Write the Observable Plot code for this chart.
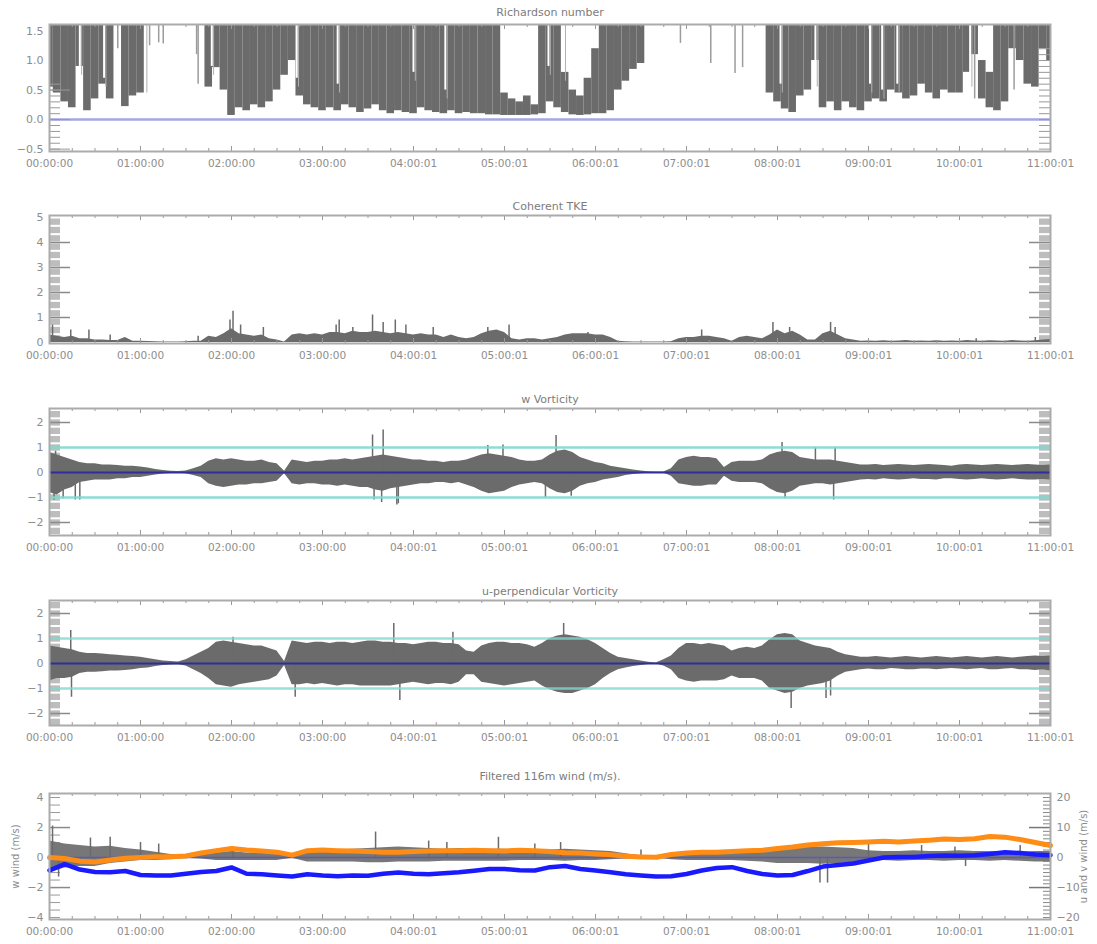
<!DOCTYPE html>
<html>
<head>
<meta charset="utf-8">
<script src="https://cdn.jsdelivr.net/npm/d3@7"></script>
<script src="https://cdn.jsdelivr.net/npm/@observablehq/plot@0.6"></script>
<style>
  body { margin: 0; background: #fff; }
  #chart { position: relative; width: 1097px; height: 944px; background: #fff; }
  #chart > div { position: absolute; left: 0; }
</style>
</head>
<body>
<div id="chart"></div>
<script>
// ---------------- DATA ----------------
const xTickLabels = ["00:00:00","01:00:00","02:00:00","03:00:00","04:00:01","05:00:01","06:00:01","07:00:01","08:00:01","09:00:01","10:00:01","11:00:01"];
const hourTicks = d3.range(0, 661, 60);
const quarterTicks = d3.range(0, 661, 15);
const minutes = d3.range(0, 661, 5);       // 5-minute bins
const windMinutes = d3.range(0, 661, 10);  // 10-minute bins

// Richardson number: lower / upper envelope per 5-minute bin (null = nothing drawn)
const riLo = [
  0.55,0.45,0.3,0.2,0.9,0.15,0.35,0.6,0.35,null,
  0.22,0.4,0.45,null,null,null,null,null,null,null,
  null,0.55,0.88,0.5,0.07,0.2,0.15,0.25,0.2,0.3,
  0.5,0.75,1.0,0.4,0.25,0.2,0.15,0.2,0.15,0.25,
  0.2,0.12,0.18,0.25,0.15,0.1,0.15,0.12,0.1,0.2,
  0.15,0.12,0.1,0.15,0.1,0.12,0.1,0.1,0.08,0.08,
  0.07,0.07,0.07,0.07,0.08,0.1,0.3,0.2,0.12,0.08,
  0.07,0.08,0.1,0.1,0.15,0.5,0.65,0.85,0.95,null,
  null,null,null,null,null,null,null,null,null,null,
  null,null,null,null,null,0.45,0.3,0.18,0.12,0.4,
  0.5,1.0,0.2,0.3,0.15,0.3,0.2,0.15,0.3,0.35,
  0.3,0.5,0.45,0.35,0.4,0.6,0.45,0.35,0.5,0.45,
  0.45,0.8,1.1,0.35,0.2,0.15,0.3,1.2,1.0,0.6,
  0.55,1.2,1.0
];
const riHi = [
  1.6,1.6,1.6,1.6,1.6,1.6,1.6,1.6,1.6,null,
  1.6,1.6,1.6,null,null,null,null,null,null,null,
  null,1.6,1.6,1.6,1.6,1.6,1.6,1.6,1.6,1.6,
  1.6,1.6,1.6,1.6,1.6,1.6,1.6,1.6,1.6,1.6,
  1.6,1.6,1.6,1.6,1.6,1.6,1.6,1.6,1.6,1.6,
  1.6,1.6,1.6,1.6,1.6,1.6,1.6,1.6,1.6,1.6,
  0.45,0.35,0.3,0.4,0.25,1.6,1.6,1.6,0.8,0.5,
  0.4,0.7,1.2,1.6,1.6,1.6,1.6,1.6,1.6,null,
  null,null,null,null,null,null,null,null,null,null,
  null,null,null,null,null,1.6,1.6,1.6,1.6,1.6,
  1.6,1.6,1.6,1.6,1.6,1.6,1.6,1.6,1.6,1.6,
  1.6,1.6,1.6,1.6,1.6,1.6,1.6,1.6,1.6,1.6,
  1.6,1.6,1.6,1.0,0.8,1.6,1.6,1.6,1.6,1.6,
  1.6,1.6,1.6
];
// isolated Richardson-number strands (minutes, lowest value)
const riStrandT  = [45, 66, 72, 75, 97, 98, 416, 436, 452, 457, 610, 636];
const riStrandLo = [1.2, 1.25, 1.3, 1.28, 1.1, 0.6, 1.29, 0.95, 0.78, 0.88, 0.35, 0.5];
// white gaps inside the dense Richardson-number blocks (minutes, lowest value of gap)
const riGapT  = [20, 36, 63, 107, 163, 190, 240, 261, 329, 339, 482, 505, 541, 549, 559, 607];
const riGapLo = [0.9, 0.7, 0.6, 0.9, 0.7, 0.6, 0.8, 0.5, 0.9, 0.8, 0.6, 0.7, 0.6, 0.5, 0.6, 0.7];

// Coherent TKE envelope per 5-minute bin
const tke = [
  0.3,0.25,0.2,0.25,0.15,0.15,0.1,0.1,0.08,0.08,
  0.2,0.05,0.05,0.04,0.03,0.02,0.02,0.02,0.03,0.05,
  0.05,0.25,0.2,0.35,0.55,0.35,0.3,0.25,0.3,0.15,
  0.1,0.02,0.3,0.35,0.3,0.35,0.3,0.4,0.4,0.35,
  0.45,0.4,0.4,0.45,0.4,0.35,0.4,0.35,0.3,0.35,
  0.3,0.3,0.2,0.3,0.2,0.15,0.2,0.35,0.45,0.5,
  0.4,0.15,0.1,0.15,0.15,0.1,0.15,0.2,0.3,0.35,
  0.35,0.35,0.3,0.3,0.2,0.05,0.03,0.02,0.02,0.02,
  0.02,0.02,0.03,0.15,0.2,0.2,0.25,0.25,0.2,0.15,
  0.05,0.2,0.25,0.2,0.15,0.3,0.5,0.35,0.45,0.3,
  0.1,0.1,0.35,0.45,0.3,0.15,0.1,0.05,0.06,0.05,
  0.07,0.05,0.06,0.08,0.05,0.06,0.05,0.07,0.05,0.06,
  0.05,0.08,0.06,0.05,0.07,0.06,0.05,0.08,0.06,0.05,
  0.07,0.1,0.12
];
const tkeSpikeT = [2,14,26,40,98,119,121,126,141,189,191,200,213,220,228,235,253,289,303,355,430,477,488,515,518,611,650];
const tkeSpikeV = [0.7,0.5,0.5,0.3,0.25,0.9,1.25,0.7,0.6,0.7,0.9,0.6,1.1,0.8,0.9,0.7,0.6,0.6,0.7,0.4,0.5,0.8,0.6,0.8,0.6,0.15,0.2];

// w vorticity envelope
const wUp = [
  0.8,0.7,0.6,0.5,0.4,0.35,0.35,0.3,0.3,0.28,
  0.25,0.25,0.22,0.18,0.12,0.08,0.05,0.04,0.06,0.15,
  0.25,0.45,0.55,0.5,0.55,0.5,0.45,0.45,0.5,0.4,
  0.35,0.05,0.5,0.45,0.4,0.45,0.45,0.5,0.5,0.55,
  0.5,0.55,0.6,0.65,0.7,0.65,0.6,0.55,0.5,0.5,
  0.45,0.45,0.4,0.45,0.45,0.5,0.6,0.7,0.75,0.7,
  0.65,0.6,0.5,0.45,0.45,0.5,0.7,0.85,0.9,0.8,
  0.6,0.5,0.4,0.35,0.25,0.2,0.15,0.1,0.06,0.03,
  0.02,0.02,0.15,0.5,0.6,0.65,0.6,0.6,0.55,0.2,
  0.4,0.45,0.45,0.45,0.5,0.7,0.8,0.85,0.8,0.6,
  0.55,0.5,0.5,0.5,0.45,0.4,0.35,0.3,0.3,0.32,
  0.28,0.3,0.32,0.3,0.28,0.3,0.32,0.3,0.28,0.25,
  0.3,0.32,0.3,0.28,0.3,0.32,0.3,0.28,0.3,0.32,
  0.3,0.28,0.3
];
const wLo = [
  -0.8,-0.9,-0.7,-0.6,-0.4,-0.35,-0.3,-0.3,-0.3,-0.25,
  -0.25,-0.2,-0.2,-0.15,-0.1,-0.06,-0.04,-0.03,-0.05,-0.12,
  -0.2,-0.45,-0.55,-0.6,-0.55,-0.5,-0.5,-0.45,-0.45,-0.4,
  -0.35,-0.05,-0.45,-0.5,-0.45,-0.45,-0.5,-0.5,-0.55,-0.5,
  -0.55,-0.6,-0.6,-0.7,-0.75,-0.65,-0.6,-0.55,-0.5,-0.45,
  -0.45,-0.4,-0.4,-0.45,-0.4,-0.5,-0.6,-0.75,-0.85,-0.8,
  -0.75,-0.6,-0.5,-0.45,-0.4,-0.45,-0.65,-0.8,-0.85,-0.75,
  -0.55,-0.45,-0.4,-0.3,-0.25,-0.2,-0.12,-0.08,-0.05,-0.03,
  -0.02,-0.02,-0.15,-0.45,-0.5,-0.55,-0.55,-0.5,-0.5,-0.15,
  -0.35,-0.4,-0.4,-0.4,-0.45,-0.65,-0.8,-0.85,-0.75,-0.55,
  -0.5,-0.45,-0.45,-0.5,-0.45,-0.4,-0.35,-0.3,-0.28,-0.3,
  -0.25,-0.28,-0.3,-0.28,-0.25,-0.28,-0.28,-0.3,-0.25,-0.25,
  -0.28,-0.3,-0.28,-0.25,-0.28,-0.3,-0.28,-0.25,-0.28,-0.3,
  -0.3,-0.28,-0.3
];
const wSpikeT = [3,4,9,17,20,213,214,219,220,229,230,289,299,327,334,344,483,485,505,517,518];
const wSpikeV = [-1.1,0.85,-1.05,-1.1,-1.1,1.5,-1.1,-1.2,1.7,-1.3,-1.25,1.08,1.1,-1.0,1.48,-0.95,1.2,-1.05,1.0,-1.1,1.0];

// u-perpendicular vorticity envelope
const uUp = [
  0.7,0.65,0.6,0.55,0.45,0.4,0.4,0.38,0.35,0.33,
  0.3,0.28,0.25,0.2,0.15,0.1,0.08,0.06,0.15,0.3,
  0.45,0.6,0.85,0.9,0.85,0.8,0.75,0.7,0.7,0.6,
  0.5,0.08,0.9,0.85,0.8,0.85,0.85,0.8,0.85,0.85,
  0.8,0.85,0.9,0.9,0.85,0.85,0.8,0.8,0.75,0.8,
  0.85,0.85,0.8,0.8,0.75,0.5,0.45,0.7,0.8,0.85,
  0.85,0.8,0.8,0.75,0.65,0.8,1.0,1.1,1.15,1.1,
  1.05,0.95,0.8,0.6,0.4,0.25,0.2,0.15,0.1,0.05,
  0.02,0.15,0.3,0.6,0.8,0.8,0.75,0.8,0.75,0.7,
  0.5,0.6,0.65,0.6,0.7,0.95,1.15,1.2,1.15,0.9,
  0.8,0.7,0.65,0.6,0.45,0.35,0.3,0.25,0.25,0.28,
  0.25,0.22,0.25,0.28,0.25,0.22,0.25,0.28,0.25,0.22,
  0.25,0.28,0.25,0.22,0.25,0.28,0.25,0.22,0.25,0.28,
  0.3,0.28,0.3
];
const uLo = [
  -0.7,-0.6,-0.6,-0.55,-0.4,-0.35,-0.35,-0.33,-0.3,-0.3,
  -0.28,-0.25,-0.2,-0.18,-0.12,-0.08,-0.06,-0.05,-0.1,-0.25,
  -0.4,-0.6,-0.85,-0.9,-0.95,-0.85,-0.8,-0.75,-0.7,-0.65,
  -0.5,-0.08,-0.85,-0.85,-0.8,-0.85,-0.8,-0.85,-0.9,-0.85,
  -0.85,-0.9,-0.9,-0.9,-0.9,-0.9,-0.85,-0.8,-0.75,-0.8,
  -0.85,-0.8,-0.8,-0.85,-0.75,-0.45,-0.45,-0.75,-0.8,-0.85,
  -0.9,-0.85,-0.8,-0.75,-0.7,-0.9,-1.05,-1.15,-1.2,-1.2,
  -1.1,-1.0,-0.85,-0.6,-0.4,-0.25,-0.18,-0.12,-0.08,-0.04,
  -0.02,-0.1,-0.25,-0.6,-0.7,-0.75,-0.7,-0.7,-0.7,-0.65,
  -0.5,-0.6,-0.6,-0.6,-0.7,-1.0,-1.1,-1.2,-1.15,-1.0,
  -0.9,-0.85,-0.8,-0.7,-0.5,-0.35,-0.3,-0.25,-0.22,-0.25,
  -0.25,-0.2,-0.22,-0.25,-0.25,-0.22,-0.22,-0.25,-0.22,-0.2,
  -0.22,-0.25,-0.22,-0.2,-0.25,-0.25,-0.22,-0.2,-0.25,-0.25,
  -0.28,-0.25,-0.3
];
const uSpikeT = [14,14.5,121,162,227,231,266,339,489,512,515];
const uSpikeV = [1.32,-1.35,1.05,-1.35,1.6,-1.48,1.25,1.6,-1.8,-1.4,-1.3];

// Filtered 116 m wind (10-minute bins)
const wwUp = [
  1.1,0.9,0.8,0.7,0.75,0.6,0.5,0.35,0.2,0.1,
  0.15,0.3,0.4,0.3,0.3,0.25,0.1,0.45,0.5,0.5,
  0.55,0.6,0.65,0.7,0.65,0.6,0.55,0.6,0.6,0.55,
  0.55,0.5,0.5,0.5,0.55,0.5,0.45,0.4,0.25,0.12,
  0.05,0.2,0.3,0.3,0.3,0.35,0.4,0.45,0.45,0.6,
  0.7,0.7,0.65,0.6,0.45,0.4,0.4,0.45,0.4,0.4,
  0.45,0.4,0.4,0.35,0.35,0.4,0.4
];
const wwLo = [
  -1.0,-0.7,-0.6,-0.6,-0.4,-0.3,-0.2,-0.2,-0.15,-0.05,
  -0.1,-0.2,-0.2,-0.2,-0.2,-0.2,-0.05,-0.3,-0.3,-0.3,
  -0.3,-0.35,-0.35,-0.3,-0.3,-0.3,-0.25,-0.25,-0.25,-0.25,
  -0.25,-0.2,-0.2,-0.2,-0.25,-0.2,-0.2,-0.15,-0.1,-0.05,
  -0.03,-0.15,-0.2,-0.2,-0.2,-0.2,-0.25,-0.3,-0.4,-0.4,
  -0.4,-0.45,-0.4,-0.35,-0.25,-0.2,-0.25,-0.2,-0.2,-0.25,
  -0.2,-0.2,-0.25,-0.2,-0.25,-0.3,-0.3
];
const wwSpikeT = [2,6,27,40,60,72,121,215,250,262,296,320,337,390,508,513,540,575,597,604,640];
const wwSpikeV = [2.1,-1.3,1.3,1.35,1.0,0.9,0.7,1.7,1.1,1.0,1.35,0.9,1.0,0.5,-1.7,-1.7,0.9,0.8,0.7,-0.6,0.8];
const uWind = [
  0,-0.3,-1.2,-1.5,-0.8,-0.2,0,0.3,0.3,0.5,
  1.5,2.3,3.0,2.5,2.2,1.8,0.8,2.3,2.5,2.3,
  2.2,2.0,1.8,1.8,2.0,2.2,2.3,2.3,2.4,2.3,
  2.2,2.4,2.3,2.0,1.6,1.5,1.2,0.9,0.4,0.2,
  0.1,1.0,1.5,1.8,1.8,2.0,2.3,2.4,3.0,3.5,
  4.2,4.6,4.9,5.0,5.2,5.4,5.2,5.5,5.8,6.2,
  6.0,6.3,7.0,6.8,6.0,5.0,4.0
];
const vWind = [
  -4.3,-2.2,-4.0,-4.8,-4.9,-4.5,-5.8,-6.0,-6.0,-5.4,
  -4.8,-4.5,-3.3,-5.4,-5.6,-6.0,-6.3,-5.6,-6.0,-6.2,
  -6.0,-6.1,-5.4,-5.0,-5.4,-5.6,-5.2,-4.9,-4.4,-3.8,
  -3.8,-4.2,-4.3,-3.2,-2.8,-3.8,-4.3,-4.9,-5.6,-6.0,
  -6.3,-6.2,-5.5,-4.3,-3.5,-3.2,-4.5,-5.5,-6.0,-5.8,
  -4.5,-3.0,-2.5,-2.0,-1.0,0,0.2,0.2,0.5,0.7,
  0.6,0.8,1.2,1.8,1.5,1.0,0.8
];
const rightTickLabels = ["−20","−10","0","10","20"];

// ---------------- BUILD ----------------
const GRAY = "#6b6b6b";
const TXT = "#8d8d8d";
const MINPX = 60 / 91; // minutes per pixel
const xLabelOf = new Map(hourTicks.map((h, i) => [h, xTickLabels[i]]));
const toRows = (ts, vs) => ts.map((t, i) => ({t, v: vs[i]}));

function panel({top, height, mt, mb, domain, title, titleDy, yTicks, yLabels, marks, extra = []}) {
  const fh = height - mt - mb;
  const [y0, y1] = domain;
  const k = (y1 - y0) / fh;
  const yLabelOf = new Map(yTicks.map((t, i) => [t, yLabels[i]]));
  const svg = Plot.plot({
    width: 1097, height,
    marginLeft: 49, marginRight: 47, marginTop: mt, marginBottom: mb,
    x: {domain: [0, 660], axis: null},
    y: {domain, axis: null},
    style: {fontFamily: "'DejaVu Sans', sans-serif", background: "#fff", overflow: "visible"},
    marks: [
      ...marks,
      Plot.ruleX(quarterTicks, {x: d => d, y1: y0, y2: d => y0 + (d % 60 === 0 ? 5 : 3) * k, stroke: "#999", strokeWidth: 1}),
      Plot.ruleX(quarterTicks, {x: d => d, y1: y1, y2: d => y1 - (d % 60 === 0 ? 5 : 3) * k, stroke: "#999", strokeWidth: 1}),
      Plot.frame({stroke: "#ababab", strokeWidth: 2}),
      Plot.axisX({ticks: hourTicks, tickSize: 0, tickPadding: 8, tickFormat: d => xLabelOf.get(d), fontSize: 10.5, color: TXT, label: null}),
      Plot.axisY({ticks: yTicks, tickSize: 0, tickPadding: 6, tickFormat: d => yLabelOf.get(d), fontSize: 11, color: TXT, label: null}),
      Plot.text([title], {text: d => d, frameAnchor: "top", dy: titleDy, fontSize: 11, fill: "#7c7c7c", lineAnchor: "middle"}),
      ...extra
    ]
  });
  const div = document.createElement("div");
  div.style.top = top + "px";
  div.appendChild(svg);
  document.getElementById("chart").appendChild(div);
}

const colL = 11 * MINPX, colR = 660 - 11 * MINPX, majL = 21 * MINPX, majR = 660 - 21 * MINPX;
function stripes(ys, sw) {
  return [
    Plot.ruleY(ys, {y: d => d, x1: 0, x2: colL, stroke: "#bdbdbd", strokeWidth: sw}),
    Plot.ruleY(ys, {y: d => d, x1: colR, x2: 660, stroke: "#bdbdbd", strokeWidth: sw})
  ];
}
function majors(ys) {
  return [
    Plot.ruleY(ys, {y: d => d, x1: 0, x2: majL, stroke: "#8a8a8a", strokeWidth: 1.5}),
    Plot.ruleY(ys, {y: d => d, x1: majR, x2: 660, stroke: "#8a8a8a", strokeWidth: 1.5})
  ];
}

// Panel 1: Richardson number
const riRows = minutes.map((t, i) => ({t, lo: riLo[i], hi: riHi[i]})).filter(d => d.lo != null && d.hi != null);
panel({
  top: 0, height: 190, mt: 24, mb: 39, domain: [-0.54, 1.61],
  title: "Richardson number", titleDy: -12,
  yTicks: [1.5, 1.0, 0.5, 0, -0.5], yLabels: ["1.5", "1.0", "0.5", "0.0", "−0.5"],
  marks: [
    Plot.rect(riRows, {x1: d => d.t - 2.5, x2: d => d.t + 2.5, y1: "lo", y2: "hi", fill: GRAY, clip: true}),
    Plot.ruleX(toRows(riGapT, riGapLo), {x: "t", y1: "v", y2: 1.61, stroke: "#fff", strokeWidth: 2, clip: true}),
    Plot.ruleX(toRows(riGapT, riGapLo), {x: d => d.t + 1.2, y1: d => d.v - 0.15, y2: 1.61, stroke: "#b0b0b0", strokeWidth: 1, clip: true}),
    Plot.ruleX(toRows(riStrandT, riStrandLo), {x: "t", y1: "v", y2: 1.61, stroke: "#9c9c9c", strokeWidth: 1.5, clip: true}),
    Plot.ruleY([0], {stroke: "#a6a6e4", strokeWidth: 2.5}),
    Plot.ruleY(d3.range(-5, 7).map(d => d / 10), {y: d => d, x1: 0, x2: colL, stroke: "#999"}),
    Plot.ruleY(d3.range(-5, 13).map(d => d / 10), {y: d => d, x1: colR, x2: 660, stroke: "#999"}),
    Plot.ruleY([-0.5, 0, 0.5], {y: d => d, x1: 0, x2: majL, stroke: "#999"})
  ]
});

// Panel 2: Coherent TKE
panel({
  top: 190, height: 190, mt: 25, mb: 37, domain: [-0.04, 5.08],
  title: "Coherent TKE", titleDy: -9,
  yTicks: [0, 1, 2, 3, 4, 5], yLabels: ["0", "1", "2", "3", "4", "5"],
  marks: [
    ...stripes(d3.range(0, 15).map(d => d / 3 + 1 / 6), 6.3),
    Plot.areaY(toRows(minutes, tke), {x: "t", y: "v", fill: GRAY, curve: "linear", clip: true}),
    Plot.ruleX(toRows(tkeSpikeT, tkeSpikeV), {x: "t", y1: 0, y2: "v", stroke: GRAY, strokeWidth: 1.5}),
    ...majors([1, 2, 3, 4])
  ]
});

// Panel 3: w Vorticity
const wRows = minutes.map((t, i) => ({t, lo: wLo[i], hi: wUp[i]}));
panel({
  top: 380, height: 190, mt: 28, mb: 35, domain: [-2.52, 2.56],
  title: "w Vorticity", titleDy: -9,
  yTicks: [-2, -1, 0, 1, 2], yLabels: ["−2", "−1", "0", "1", "2"],
  marks: [
    ...stripes(d3.range(-7, 8).map(d => d / 3), 6.3),
    Plot.areaY(wRows, {x: "t", y1: "lo", y2: "hi", fill: GRAY, curve: "linear"}),
    Plot.ruleX(toRows(wSpikeT, wSpikeV), {x: "t", y1: 0, y2: "v", stroke: GRAY, strokeWidth: 1.5}),
    Plot.ruleY([-1, 1], {stroke: "#7fd8cf", strokeWidth: 2.5, strokeOpacity: 0.9}),
    Plot.ruleY([0], {stroke: "#2e2ea0", strokeWidth: 2}),
    ...majors([-2, 2])
  ]
});

// Panel 4: u-perpendicular Vorticity
const uRows = minutes.map((t, i) => ({t, lo: uLo[i], hi: uUp[i]}));
panel({
  top: 570, height: 190, mt: 30, mb: 35, domain: [-2.48, 2.52],
  title: "u-perpendicular Vorticity", titleDy: -9,
  yTicks: [-2, -1, 0, 1, 2], yLabels: ["−2", "−1", "0", "1", "2"],
  marks: [
    ...stripes(d3.range(-7, 8).map(d => d / 3), 6.3),
    Plot.areaY(uRows, {x: "t", y1: "lo", y2: "hi", fill: GRAY, curve: "linear"}),
    Plot.ruleX(toRows(uSpikeT, uSpikeV), {x: "t", y1: 0, y2: "v", stroke: GRAY, strokeWidth: 1.5}),
    Plot.ruleY([-1, 1], {stroke: "#7fd8cf", strokeWidth: 2.5, strokeOpacity: 0.8}),
    Plot.ruleY([0], {stroke: "#2e2ea0", strokeWidth: 2}),
    ...majors([-2, 2])
  ]
});

// Panel 5: Filtered 116m wind
const windRows = windMinutes.map((t, i) => ({t, lo: wwLo[i], hi: wwUp[i], u: uWind[i], v: vWind[i]}));
panel({
  top: 760, height: 184, mt: 33, mb: 25, domain: [-4.13, 4.27],
  title: "Filtered 116m wind (m/s).", titleDy: -17,
  yTicks: [-4, -2, 0, 2, 4], yLabels: ["−4", "−2", "0", "2", "4"],
  marks: [
    Plot.ruleY(d3.range(-8, 9).map(d => d / 2), {y: d => d, x1: 0, x2: colL, stroke: "#999"}),
    Plot.ruleY([-2, 2], {y: d => d, x1: 0, x2: majL, stroke: "#8a8a8a", strokeWidth: 1.5}),
    Plot.ruleY(d3.range(-16, 17).map(d => d / 4), {y: d => d, x1: 660 - 7 * MINPX, x2: 660, stroke: "#888"}),
    Plot.ruleY([-2, 2], {y: d => d, x1: majR, x2: 660, stroke: "#777", strokeWidth: 1.5}),
    Plot.areaY(windRows, {x: "t", y1: "lo", y2: "hi", fill: "#777", curve: "linear"}),
    Plot.ruleX(toRows(wwSpikeT, wwSpikeV), {x: "t", y1: 0, y2: "v", stroke: GRAY, strokeWidth: 1.5}),
    Plot.ruleY([0], {stroke: "#5a5ab0", strokeWidth: 1.5}),
    Plot.line(windRows, {x: "t", y: d => d.u / 5, stroke: "#ff8c14", strokeWidth: 5}),
    Plot.line(windRows, {x: "t", y: d => d.v / 5, stroke: "#1a1aff", strokeWidth: 4.5})
  ],
  extra: [
    Plot.axisY({anchor: "right", ticks: [-4, -2, 0, 2, 4], tickSize: 0, tickPadding: 6,
      tickFormat: (d) => rightTickLabels[[-4, -2, 0, 2, 4].indexOf(d)], fontSize: 11, color: TXT, label: null}),
    Plot.text(["w wind (m/s)"], {text: d => d, frameAnchor: "left", dx: -34, rotate: -90, textAnchor: "middle", fontSize: 10, fill: TXT}),
    Plot.text(["u and v wind (m/s)"], {text: d => d, frameAnchor: "right", dx: 33, rotate: -90, textAnchor: "middle", fontSize: 10, fill: TXT})
  ]
});
</script>
</body>
</html>
